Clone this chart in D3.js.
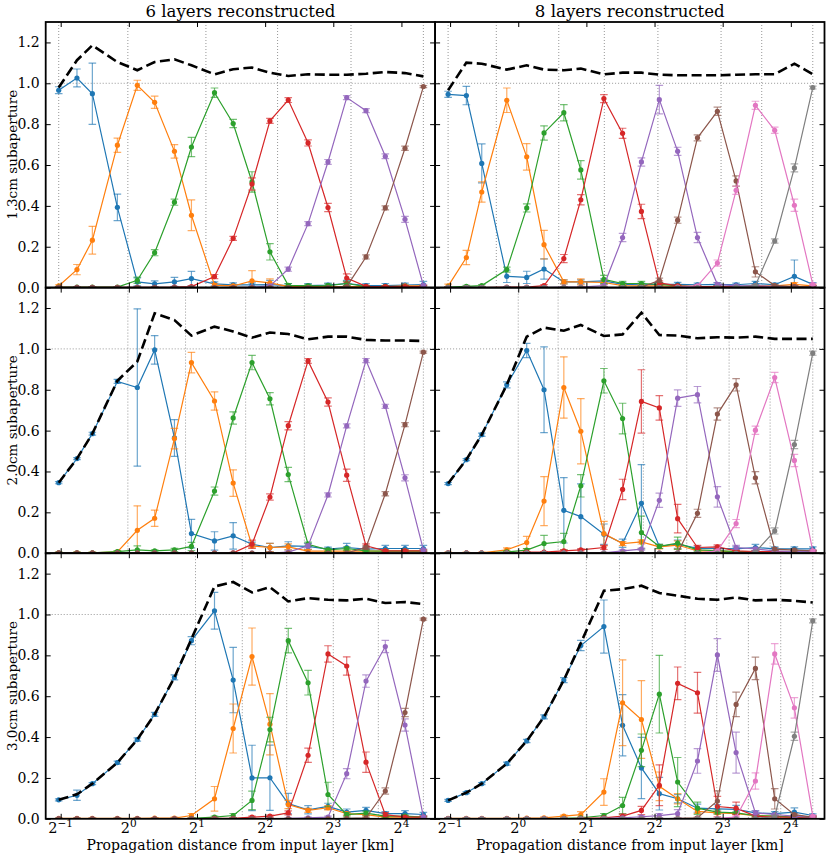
<!DOCTYPE html>
<html>
<head>
<meta charset="utf-8">
<script src="https://cdn.jsdelivr.net/npm/d3@7"></script>
<style>
  body { margin: 0; background: #fff; }
  text { font-family: "DejaVu Serif", serif; fill: #000; }
</style>
</head>
<body>
<div id="chart"></div>
<script>
// propagation distances [km] where each layer was reconstructed
const distances = [0.49, 0.59, 0.69, 0.89, 1.09, 1.30, 1.59, 1.89, 2.39, 2.89, 3.50, 4.20, 5.06, 6.19, 7.58, 9.17, 11.16, 13.58, 16.59, 20.0];

const colTitles = ['6 layers reconstructed', '8 layers reconstructed'];
const rowLabels = ['1.3cm subaperture', '2.0cm subaperture', '3.0cm subaperture'];
const xTickExps = [-1, 0, 1, 2, 3, 4];
const yTicks = [0, 0.2, 0.4, 0.6, 0.8, 1.0, 1.2];
const colors = ['#1f77b4', '#ff7f0e', '#2ca02c', '#d62728', '#9467bd', '#8c564b', '#e377c2', '#7f7f7f'];

// true layer positions (dotted verticals)
const layers_13_6 = [0.49, 0.99, 2.19, 4.54, 9.58, 20.0];
const layers_20_6 = [0.99, 1.78, 3.28, 5.96, 10.97, 20.0];
const layers_30_6 = [1.97, 3.17, 4.98, 8.0, 12.65, 20.0];
const layers_13_8 = [0.49, 0.80, 1.51, 2.40, 4.14, 7.87, 11.9, 20.0];
const layers_20_8 = [1.0, 1.50, 2.40, 3.57, 5.55, 8.54, 12.96, 20.0];
const layers_30_8 = [2.0, 2.80, 3.91, 5.46, 7.53, 10.39, 14.44, 20.0];

// ---- 1.3cm, 6 layers
const vals_13_6 = [
  [0.966, 1.026, 0.949, 0.393, 0.028, 0.018, 0.028, 0.044, 0.018, 0.013, 0.013, 0.015, 0.010, 0.010, 0.012, 0.020, 0.010, 0.010, 0.012, 0.015],
  [0.008, 0.088, 0.232, 0.697, 0.990, 0.907, 0.667, 0.354, 0.012, 0.008, 0.033, 0.023, 0.005, 0.005, 0.005, 0.005, 0.005, 0.005, 0.008, 0.008],
  [0.002, 0.002, 0.002, 0.002, 0.036, 0.171, 0.418, 0.688, 0.954, 0.803, 0.517, 0.175, 0.011, 0.008, 0.010, 0.020, 0.005, 0.005, 0.005, 0.005],
  [0.001, 0.001, 0.001, 0.001, 0.001, 0.001, 0.002, 0.005, 0.054, 0.241, 0.507, 0.816, 0.918, 0.708, 0.392, 0.047, 0.006, 0.005, 0.005, 0.005],
  [0.000, 0.000, 0.000, 0.000, 0.000, 0.000, 0.000, 0.000, 0.000, 0.000, 0.002, 0.008, 0.090, 0.313, 0.615, 0.930, 0.866, 0.643, 0.334, 0.011],
  [0.000, 0.000, 0.000, 0.000, 0.000, 0.000, 0.000, 0.000, 0.000, 0.000, 0.000, 0.000, 0.000, 0.000, 0.000, 0.005, 0.150, 0.390, 0.682, 0.984]
];
const errs_13_6 = [
  [0.017, 0.044, 0.150, 0.065, 0.020, 0.015, 0.022, 0.035, 0.010, 0.010, 0.010, 0.020, 0.010, 0.010, 0.010, 0.015, 0.010, 0.010, 0.010, 0.015],
  [0.005, 0.025, 0.068, 0.035, 0.025, 0.030, 0.033, 0.075, 0.008, 0.005, 0.050, 0.020, 0.005, 0.005, 0.005, 0.005, 0.005, 0.005, 0.005, 0.005],
  [0.003, 0.003, 0.003, 0.003, 0.015, 0.015, 0.015, 0.047, 0.023, 0.020, 0.050, 0.040, 0.008, 0.008, 0.008, 0.010, 0.005, 0.005, 0.005, 0.005],
  [0.002, 0.002, 0.002, 0.002, 0.002, 0.002, 0.002, 0.005, 0.010, 0.010, 0.030, 0.012, 0.012, 0.015, 0.020, 0.020, 0.005, 0.005, 0.005, 0.005],
  [0.002, 0.002, 0.002, 0.002, 0.002, 0.002, 0.002, 0.002, 0.002, 0.002, 0.003, 0.005, 0.010, 0.010, 0.012, 0.010, 0.010, 0.012, 0.015, 0.005],
  [0.002, 0.002, 0.002, 0.002, 0.002, 0.002, 0.002, 0.002, 0.002, 0.002, 0.002, 0.002, 0.002, 0.002, 0.002, 0.003, 0.010, 0.010, 0.010, 0.005]
];
const total_13_6 = [0.979, 1.113, 1.186, 1.104, 1.064, 1.104, 1.117, 1.088, 1.044, 1.069, 1.077, 1.052, 1.036, 1.044, 1.042, 1.042, 1.047, 1.055, 1.050, 1.034];

// ---- 1.3cm, 8 layers
const vals_13_8 = [
  [0.946, 0.940, 0.608, 0.055, 0.050, 0.091, 0.028, 0.028, 0.033, 0.016, 0.014, 0.016, 0.016, 0.014, 0.016, 0.014, 0.020, 0.014, 0.055, 0.016],
  [0.007, 0.147, 0.468, 0.917, 0.640, 0.210, 0.028, 0.028, 0.025, 0.010, 0.008, 0.008, 0.005, 0.005, 0.005, 0.005, 0.008, 0.008, 0.016, 0.008],
  [0.002, 0.006, 0.010, 0.088, 0.390, 0.757, 0.856, 0.576, 0.040, 0.020, 0.020, 0.016, 0.008, 0.005, 0.005, 0.005, 0.005, 0.005, 0.005, 0.005],
  [0.000, 0.000, 0.000, 0.002, 0.002, 0.010, 0.142, 0.430, 0.925, 0.755, 0.373, 0.023, 0.008, 0.005, 0.005, 0.005, 0.005, 0.005, 0.005, 0.005],
  [0.000, 0.000, 0.000, 0.000, 0.000, 0.000, 0.002, 0.002, 0.010, 0.245, 0.615, 0.920, 0.667, 0.245, 0.016, 0.008, 0.010, 0.005, 0.005, 0.005],
  [0.000, 0.000, 0.000, 0.000, 0.000, 0.000, 0.000, 0.000, 0.000, 0.000, 0.002, 0.036, 0.330, 0.733, 0.863, 0.522, 0.077, 0.010, 0.005, 0.005],
  [0.000, 0.000, 0.000, 0.000, 0.000, 0.000, 0.000, 0.000, 0.000, 0.000, 0.000, 0.000, 0.002, 0.008, 0.120, 0.476, 0.892, 0.770, 0.403, 0.016],
  [0.000, 0.000, 0.000, 0.000, 0.000, 0.000, 0.000, 0.000, 0.000, 0.000, 0.000, 0.000, 0.000, 0.000, 0.000, 0.002, 0.010, 0.228, 0.586, 0.979]
];
const errs_13_8 = [
  [0.015, 0.045, 0.095, 0.030, 0.030, 0.050, 0.010, 0.010, 0.010, 0.008, 0.008, 0.008, 0.010, 0.008, 0.008, 0.008, 0.010, 0.008, 0.080, 0.008],
  [0.010, 0.035, 0.050, 0.060, 0.065, 0.070, 0.010, 0.015, 0.010, 0.005, 0.005, 0.005, 0.005, 0.005, 0.005, 0.005, 0.005, 0.005, 0.008, 0.005],
  [0.003, 0.005, 0.005, 0.012, 0.020, 0.035, 0.040, 0.045, 0.020, 0.010, 0.010, 0.008, 0.005, 0.005, 0.005, 0.005, 0.005, 0.005, 0.005, 0.005],
  [0.002, 0.002, 0.002, 0.002, 0.002, 0.005, 0.020, 0.025, 0.020, 0.025, 0.035, 0.010, 0.005, 0.005, 0.005, 0.005, 0.005, 0.005, 0.005, 0.005],
  [0.002, 0.002, 0.002, 0.002, 0.002, 0.002, 0.002, 0.002, 0.005, 0.020, 0.020, 0.070, 0.020, 0.025, 0.008, 0.005, 0.005, 0.005, 0.005, 0.005],
  [0.002, 0.002, 0.002, 0.002, 0.002, 0.002, 0.002, 0.002, 0.002, 0.002, 0.002, 0.010, 0.015, 0.015, 0.020, 0.025, 0.025, 0.005, 0.005, 0.005],
  [0.002, 0.002, 0.002, 0.002, 0.002, 0.002, 0.002, 0.002, 0.002, 0.002, 0.002, 0.002, 0.002, 0.005, 0.015, 0.020, 0.020, 0.015, 0.030, 0.005],
  [0.002, 0.002, 0.002, 0.002, 0.002, 0.002, 0.002, 0.002, 0.002, 0.002, 0.002, 0.002, 0.002, 0.002, 0.002, 0.002, 0.005, 0.010, 0.020, 0.007]
];
const total_13_8 = [0.966, 1.101, 1.096, 1.067, 1.088, 1.067, 1.064, 1.072, 1.044, 1.052, 1.052, 1.042, 1.039, 1.039, 1.039, 1.042, 1.044, 1.044, 1.096, 1.044];

// ---- 2.0cm, 6 layers
const vals_20_6 = [
  [0.345, 0.463, 0.585, 0.841, 0.811, 0.995, 0.564, 0.096, 0.060, 0.085, 0.044, 0.028, 0.036, 0.033, 0.020, 0.028, 0.020, 0.023, 0.023, 0.023],
  [0.002, 0.002, 0.002, 0.006, 0.112, 0.171, 0.561, 0.933, 0.745, 0.343, 0.036, 0.028, 0.031, 0.010, 0.010, 0.010, 0.010, 0.010, 0.010, 0.010],
  [0.002, 0.002, 0.002, 0.008, 0.016, 0.011, 0.016, 0.033, 0.304, 0.662, 0.933, 0.756, 0.385, 0.044, 0.016, 0.023, 0.011, 0.010, 0.010, 0.010],
  [0.001, 0.001, 0.001, 0.001, 0.001, 0.001, 0.001, 0.001, 0.001, 0.002, 0.044, 0.275, 0.624, 0.941, 0.740, 0.382, 0.036, 0.011, 0.011, 0.011],
  [0.000, 0.000, 0.000, 0.000, 0.000, 0.000, 0.000, 0.000, 0.000, 0.000, 0.000, 0.000, 0.005, 0.036, 0.285, 0.623, 0.943, 0.719, 0.369, 0.016],
  [0.000, 0.000, 0.000, 0.000, 0.000, 0.000, 0.000, 0.000, 0.000, 0.000, 0.000, 0.000, 0.000, 0.000, 0.000, 0.002, 0.028, 0.291, 0.629, 0.984]
];
const errs_20_6 = [
  [0.005, 0.005, 0.007, 0.010, 0.385, 0.070, 0.090, 0.070, 0.045, 0.065, 0.010, 0.020, 0.020, 0.015, 0.010, 0.020, 0.010, 0.015, 0.015, 0.015],
  [0.003, 0.003, 0.003, 0.005, 0.120, 0.040, 0.050, 0.050, 0.045, 0.065, 0.010, 0.020, 0.015, 0.008, 0.005, 0.005, 0.005, 0.005, 0.005, 0.005],
  [0.003, 0.003, 0.003, 0.005, 0.020, 0.005, 0.008, 0.020, 0.020, 0.030, 0.035, 0.030, 0.035, 0.010, 0.008, 0.008, 0.005, 0.005, 0.005, 0.005],
  [0.002, 0.002, 0.002, 0.002, 0.002, 0.002, 0.002, 0.002, 0.002, 0.002, 0.020, 0.015, 0.020, 0.012, 0.020, 0.030, 0.010, 0.005, 0.005, 0.005],
  [0.002, 0.002, 0.002, 0.002, 0.002, 0.002, 0.002, 0.002, 0.002, 0.002, 0.002, 0.002, 0.003, 0.010, 0.010, 0.010, 0.010, 0.010, 0.015, 0.005],
  [0.002, 0.002, 0.002, 0.002, 0.002, 0.002, 0.002, 0.002, 0.002, 0.002, 0.002, 0.002, 0.002, 0.002, 0.002, 0.002, 0.008, 0.010, 0.010, 0.005]
];
const total_20_6 = [0.345, 0.463, 0.585, 0.844, 0.938, 1.174, 1.141, 1.065, 1.109, 1.085, 1.055, 1.080, 1.073, 1.047, 1.060, 1.060, 1.044, 1.041, 1.041, 1.039];

// ---- 2.0cm, 8 layers
const vals_20_8 = [
  [0.341, 0.458, 0.580, 0.824, 0.992, 0.800, 0.210, 0.179, 0.093, 0.049, 0.244, 0.033, 0.044, 0.024, 0.024, 0.021, 0.028, 0.021, 0.021, 0.021],
  [0.002, 0.002, 0.002, 0.016, 0.052, 0.255, 0.811, 0.597, 0.096, 0.047, 0.055, 0.031, 0.040, 0.011, 0.010, 0.008, 0.008, 0.008, 0.008, 0.008],
  [0.001, 0.001, 0.001, 0.006, 0.015, 0.047, 0.057, 0.330, 0.844, 0.659, 0.101, 0.033, 0.049, 0.016, 0.013, 0.008, 0.008, 0.008, 0.008, 0.008],
  [0.000, 0.000, 0.000, 0.002, 0.005, 0.005, 0.011, 0.016, 0.028, 0.312, 0.743, 0.711, 0.169, 0.028, 0.031, 0.011, 0.008, 0.008, 0.008, 0.008],
  [0.000, 0.000, 0.000, 0.000, 0.000, 0.000, 0.000, 0.000, 0.002, 0.011, 0.020, 0.259, 0.759, 0.776, 0.276, 0.028, 0.021, 0.011, 0.008, 0.008],
  [0.000, 0.000, 0.000, 0.000, 0.000, 0.000, 0.000, 0.000, 0.000, 0.000, 0.000, 0.000, 0.002, 0.195, 0.681, 0.824, 0.369, 0.020, 0.015, 0.011],
  [0.000, 0.000, 0.000, 0.000, 0.000, 0.000, 0.000, 0.000, 0.000, 0.000, 0.000, 0.000, 0.000, 0.000, 0.011, 0.145, 0.602, 0.860, 0.454, 0.011],
  [0.000, 0.000, 0.000, 0.000, 0.000, 0.000, 0.000, 0.000, 0.000, 0.000, 0.000, 0.000, 0.000, 0.000, 0.000, 0.000, 0.005, 0.109, 0.532, 0.979]
];
const errs_20_8 = [
  [0.005, 0.005, 0.008, 0.015, 0.035, 0.210, 0.160, 0.160, 0.050, 0.020, 0.190, 0.010, 0.020, 0.010, 0.010, 0.010, 0.015, 0.010, 0.010, 0.010],
  [0.003, 0.003, 0.003, 0.010, 0.030, 0.120, 0.150, 0.160, 0.060, 0.010, 0.010, 0.010, 0.020, 0.008, 0.005, 0.005, 0.005, 0.005, 0.005, 0.005],
  [0.002, 0.002, 0.002, 0.005, 0.008, 0.040, 0.040, 0.055, 0.060, 0.075, 0.080, 0.010, 0.030, 0.008, 0.005, 0.005, 0.005, 0.005, 0.005, 0.005],
  [0.002, 0.002, 0.002, 0.002, 0.003, 0.003, 0.005, 0.005, 0.010, 0.050, 0.155, 0.060, 0.070, 0.010, 0.010, 0.005, 0.005, 0.005, 0.005, 0.005],
  [0.002, 0.002, 0.002, 0.002, 0.002, 0.002, 0.002, 0.002, 0.002, 0.005, 0.005, 0.035, 0.040, 0.040, 0.050, 0.010, 0.008, 0.005, 0.005, 0.005],
  [0.002, 0.002, 0.002, 0.002, 0.002, 0.002, 0.002, 0.002, 0.002, 0.002, 0.002, 0.002, 0.002, 0.020, 0.030, 0.030, 0.030, 0.008, 0.005, 0.005],
  [0.002, 0.002, 0.002, 0.002, 0.002, 0.002, 0.002, 0.002, 0.002, 0.002, 0.002, 0.002, 0.002, 0.002, 0.005, 0.020, 0.020, 0.025, 0.030, 0.005],
  [0.002, 0.002, 0.002, 0.002, 0.002, 0.002, 0.002, 0.002, 0.002, 0.002, 0.002, 0.002, 0.002, 0.002, 0.002, 0.002, 0.003, 0.015, 0.020, 0.010]
];
const total_20_8 = [0.341, 0.458, 0.580, 0.824, 1.060, 1.104, 1.089, 1.117, 1.063, 1.071, 1.177, 1.068, 1.065, 1.052, 1.057, 1.055, 1.060, 1.049, 1.049, 1.049];

// ---- 3.0cm, 6 layers
const vals_30_6 = [
  [0.093, 0.115, 0.172, 0.275, 0.388, 0.511, 0.692, 0.872, 1.018, 0.679, 0.200, 0.201, 0.074, 0.044, 0.061, 0.033, 0.041, 0.025, 0.025, 0.021],
  [0.002, 0.002, 0.002, 0.002, 0.002, 0.003, 0.003, 0.016, 0.098, 0.442, 0.794, 0.463, 0.070, 0.041, 0.054, 0.025, 0.020, 0.008, 0.008, 0.008],
  [0.000, 0.000, 0.000, 0.000, 0.000, 0.000, 0.000, 0.002, 0.008, 0.016, 0.090, 0.437, 0.872, 0.666, 0.119, 0.020, 0.028, 0.013, 0.013, 0.008],
  [0.000, 0.000, 0.000, 0.000, 0.000, 0.000, 0.000, 0.000, 0.002, 0.002, 0.008, 0.013, 0.029, 0.311, 0.807, 0.748, 0.277, 0.020, 0.008, 0.008],
  [0.000, 0.000, 0.000, 0.000, 0.000, 0.000, 0.000, 0.000, 0.000, 0.000, 0.000, 0.000, 0.002, 0.005, 0.008, 0.221, 0.674, 0.843, 0.459, 0.010],
  [0.000, 0.000, 0.000, 0.000, 0.000, 0.000, 0.000, 0.000, 0.000, 0.000, 0.000, 0.000, 0.000, 0.000, 0.000, 0.002, 0.005, 0.136, 0.520, 0.977]
];
const errs_30_6 = [
  [0.005, 0.025, 0.005, 0.007, 0.008, 0.010, 0.012, 0.020, 0.090, 0.160, 0.160, 0.160, 0.050, 0.020, 0.015, 0.015, 0.015, 0.010, 0.015, 0.010],
  [0.002, 0.002, 0.002, 0.002, 0.002, 0.003, 0.005, 0.010, 0.060, 0.120, 0.140, 0.150, 0.020, 0.010, 0.010, 0.008, 0.005, 0.005, 0.005, 0.005],
  [0.002, 0.002, 0.002, 0.002, 0.002, 0.002, 0.002, 0.003, 0.005, 0.010, 0.045, 0.060, 0.060, 0.060, 0.060, 0.010, 0.010, 0.005, 0.005, 0.005],
  [0.002, 0.002, 0.002, 0.002, 0.002, 0.002, 0.002, 0.002, 0.002, 0.002, 0.005, 0.005, 0.010, 0.035, 0.040, 0.045, 0.050, 0.010, 0.005, 0.005],
  [0.002, 0.002, 0.002, 0.002, 0.002, 0.002, 0.002, 0.002, 0.002, 0.002, 0.002, 0.002, 0.002, 0.003, 0.005, 0.025, 0.030, 0.030, 0.030, 0.005],
  [0.002, 0.002, 0.002, 0.002, 0.002, 0.002, 0.002, 0.002, 0.002, 0.002, 0.002, 0.002, 0.002, 0.002, 0.002, 0.002, 0.003, 0.015, 0.020, 0.005]
];
const total_30_6 = [0.093, 0.120, 0.172, 0.275, 0.388, 0.511, 0.692, 0.880, 1.137, 1.159, 1.108, 1.134, 1.064, 1.080, 1.072, 1.069, 1.077, 1.056, 1.061, 1.051];

// ---- 3.0cm, 8 layers
const vals_30_8 = [
  [0.090, 0.128, 0.172, 0.270, 0.381, 0.499, 0.679, 0.848, 0.941, 0.458, 0.249, 0.123, 0.098, 0.052, 0.049, 0.046, 0.029, 0.025, 0.033, 0.016],
  [0.002, 0.002, 0.002, 0.002, 0.003, 0.005, 0.013, 0.020, 0.131, 0.568, 0.486, 0.159, 0.098, 0.036, 0.029, 0.025, 0.016, 0.013, 0.008, 0.008],
  [0.000, 0.000, 0.000, 0.000, 0.000, 0.000, 0.002, 0.005, 0.016, 0.065, 0.335, 0.610, 0.180, 0.052, 0.033, 0.029, 0.016, 0.013, 0.008, 0.008],
  [0.000, 0.000, 0.000, 0.000, 0.000, 0.000, 0.000, 0.002, 0.005, 0.013, 0.041, 0.164, 0.663, 0.617, 0.060, 0.052, 0.013, 0.008, 0.008, 0.008],
  [0.000, 0.000, 0.000, 0.000, 0.000, 0.000, 0.000, 0.000, 0.002, 0.005, 0.010, 0.016, 0.025, 0.283, 0.802, 0.324, 0.029, 0.021, 0.013, 0.008],
  [0.000, 0.000, 0.000, 0.000, 0.000, 0.000, 0.000, 0.000, 0.000, 0.000, 0.000, 0.000, 0.002, 0.005, 0.087, 0.560, 0.736, 0.098, 0.020, 0.008],
  [0.000, 0.000, 0.000, 0.000, 0.000, 0.000, 0.000, 0.000, 0.000, 0.000, 0.000, 0.000, 0.000, 0.000, 0.002, 0.008, 0.185, 0.807, 0.543, 0.013],
  [0.000, 0.000, 0.000, 0.000, 0.000, 0.000, 0.000, 0.000, 0.000, 0.000, 0.000, 0.000, 0.000, 0.000, 0.000, 0.000, 0.002, 0.010, 0.404, 0.969]
];
const errs_30_8 = [
  [0.005, 0.005, 0.005, 0.007, 0.008, 0.010, 0.012, 0.025, 0.130, 0.150, 0.150, 0.080, 0.020, 0.020, 0.020, 0.020, 0.010, 0.010, 0.020, 0.008],
  [0.002, 0.002, 0.002, 0.002, 0.002, 0.005, 0.005, 0.015, 0.065, 0.210, 0.190, 0.070, 0.025, 0.010, 0.005, 0.005, 0.005, 0.005, 0.005, 0.005],
  [0.002, 0.002, 0.002, 0.002, 0.002, 0.002, 0.002, 0.003, 0.010, 0.040, 0.080, 0.190, 0.120, 0.030, 0.010, 0.005, 0.005, 0.005, 0.005, 0.005],
  [0.002, 0.002, 0.002, 0.002, 0.002, 0.002, 0.002, 0.002, 0.003, 0.010, 0.020, 0.100, 0.080, 0.100, 0.050, 0.030, 0.008, 0.005, 0.005, 0.005],
  [0.002, 0.002, 0.002, 0.002, 0.002, 0.002, 0.002, 0.002, 0.002, 0.003, 0.005, 0.010, 0.020, 0.060, 0.080, 0.100, 0.010, 0.005, 0.005, 0.005],
  [0.002, 0.002, 0.002, 0.002, 0.002, 0.002, 0.002, 0.002, 0.002, 0.002, 0.002, 0.002, 0.002, 0.003, 0.050, 0.060, 0.055, 0.050, 0.005, 0.005],
  [0.002, 0.002, 0.002, 0.002, 0.002, 0.002, 0.002, 0.002, 0.002, 0.002, 0.002, 0.002, 0.002, 0.002, 0.002, 0.005, 0.040, 0.050, 0.050, 0.005],
  [0.002, 0.002, 0.002, 0.002, 0.002, 0.002, 0.002, 0.002, 0.002, 0.002, 0.002, 0.002, 0.002, 0.002, 0.002, 0.002, 0.002, 0.005, 0.020, 0.010]
];
const total_30_8 = [0.090, 0.128, 0.172, 0.270, 0.381, 0.499, 0.679, 0.860, 1.116, 1.124, 1.141, 1.105, 1.092, 1.077, 1.072, 1.083, 1.069, 1.072, 1.067, 1.059];

// panel list built from the arrays above
const panels = [
  { r: 0, c: 0, vals: vals_13_6, errs: errs_13_6, total: total_13_6, layers: layers_13_6 },
  { r: 0, c: 1, vals: vals_13_8, errs: errs_13_8, total: total_13_8, layers: layers_13_8 },
  { r: 1, c: 0, vals: vals_20_6, errs: errs_20_6, total: total_20_6, layers: layers_20_6 },
  { r: 1, c: 1, vals: vals_20_8, errs: errs_20_8, total: total_20_8, layers: layers_20_8 },
  { r: 2, c: 0, vals: vals_30_6, errs: errs_30_6, total: total_30_6, layers: layers_30_6 },
  { r: 2, c: 1, vals: vals_30_8, errs: errs_30_8, total: total_30_8, layers: layers_30_8 }
];

const W = 831, H = 857;
const padLeft = 45.7, padTop = 22;
const pw = 389.4, ph = 265.6;

const svg = d3.select('#chart').append('svg')
  .attr('width', W).attr('height', H);

const x = d3.scaleLog().base(2).domain([2 ** -1.22, 2 ** 4.494]).range([0, pw]);
const y = d3.scaleLinear().domain([0, 1.3]).range([ph, 0]);

const line = d3.line().x((d) => x(d[0])).y((d) => y(d[1]));

// ---- plot content
panels.forEach((p, k) => {
  const g = svg.append('g')
    .attr('transform', `translate(${padLeft + p.c * pw},${padTop + p.r * ph})`);

  g.append('clipPath').attr('id', `clip${k}`)
    .append('rect').attr('width', pw).attr('height', ph);

  const body = g.append('g').attr('clip-path', `url(#clip${k})`);

  // dotted guides: true layer positions + unity
  body.selectAll('line.layer')
    .data(p.layers)
    .enter().append('line')
    .attr('class', 'layer')
    .attr('x1', (d) => x(d)).attr('x2', (d) => x(d))
    .attr('y1', 0).attr('y2', ph)
    .attr('stroke', '#8a8a8a').attr('stroke-width', 0.9)
    .attr('stroke-dasharray', '1,2');

  body.append('line')
    .attr('x1', 0).attr('x2', pw)
    .attr('y1', y(1)).attr('y2', y(1))
    .attr('stroke', '#8a8a8a').attr('stroke-width', 0.9)
    .attr('stroke-dasharray', '1,2');

  p.vals.forEach((series, i) => {
    const col = colors[i];
    const pts = series.map((v, j) => [distances[j], v, p.errs[i][j]]);

    body.append('path')
      .datum(pts)
      .attr('d', line)
      .attr('fill', 'none')
      .attr('stroke', col)
      .attr('stroke-width', 1.2);

    const eb = body.append('g')
      .attr('stroke', col)
      .attr('stroke-opacity', 0.65)
      .attr('stroke-width', 1.2);

    eb.selectAll('line.bar')
      .data(pts)
      .enter().append('line')
      .attr('class', 'bar')
      .attr('x1', (d) => x(d[0])).attr('x2', (d) => x(d[0]))
      .attr('y1', (d) => y(d[1] - d[2])).attr('y2', (d) => y(d[1] + d[2]));

    [-1, 1].forEach((s) => {
      eb.selectAll(`line.cap${s}`)
        .data(pts)
        .enter().append('line')
        .attr('x1', (d) => x(d[0]) - 3.8).attr('x2', (d) => x(d[0]) + 3.8)
        .attr('y1', (d) => y(d[1] + s * d[2])).attr('y2', (d) => y(d[1] + s * d[2]));
    });

    body.append('g').selectAll('circle')
      .data(pts)
      .enter().append('circle')
      .attr('cx', (d) => x(d[0]))
      .attr('cy', (d) => y(d[1]))
      .attr('r', 2.6)
      .attr('fill', col);
  });

  // sum over layers
  body.append('path')
    .datum(p.total.map((v, j) => [distances[j], v]))
    .attr('d', line)
    .attr('fill', 'none')
    .attr('stroke', '#000')
    .attr('stroke-width', 2.6)
    .attr('stroke-dasharray', '10,4.5');
});

// ---- frames, ticks and labels
panels.forEach((p) => {
  const g = svg.append('g')
    .attr('transform', `translate(${padLeft + p.c * pw},${padTop + p.r * ph})`);

  const yl = g.append('g')
    .call(d3.axisLeft(y).tickValues(yTicks).tickSize(-5).tickPadding(6)
      .tickFormat(p.c === 0 ? d3.format('.1f') : () => ''));
  const yr = g.append('g').attr('transform', `translate(${pw},0)`)
    .call(d3.axisRight(y).tickValues(yTicks).tickSize(-5).tickFormat(() => ''));
  const xb = g.append('g').attr('transform', `translate(0,${ph})`)
    .call(d3.axisBottom(x).tickValues(xTickExps.map((e) => 2 ** e)).tickSize(-5).tickFormat(() => ''));
  const xt = g.append('g')
    .call(d3.axisTop(x).tickValues(xTickExps.map((e) => 2 ** e)).tickSize(-5).tickFormat(() => ''));

  [yl, yr, xb, xt].forEach((a) => {
    a.select('.domain').remove();
    a.selectAll('.tick line').attr('stroke', '#000').attr('stroke-width', 1);
  });
  yl.selectAll('.tick text')
    .style('font-family', '"DejaVu Serif", serif')
    .style('font-size', '14px')
    .attr('fill', '#000');

  g.append('rect')
    .attr('width', pw).attr('height', ph)
    .attr('fill', 'none')
    .attr('stroke', '#000')
    .attr('stroke-width', 1.8);

  if (p.r === 2) {
    xTickExps.forEach((e) => {
      const t = g.append('text')
        .attr('x', x(2 ** e))
        .attr('y', ph + 14.5)
        .attr('text-anchor', 'middle')
        .style('font-size', '14.5px');
      t.append('tspan').text('2');
      t.append('tspan')
        .attr('dy', -6.5)
        .style('font-size', '10.5px')
        .text(e < 0 ? `\u2212${-e}` : `${e}`);
    });
    g.append('text')
      .attr('x', pw / 2)
      .attr('y', ph + 31)
      .attr('text-anchor', 'middle')
      .style('font-size', '14px')
      .text('Propagation distance from input layer [km]');
  }
  if (p.r === 0) {
    g.append('text')
      .attr('x', pw / 2)
      .attr('y', -5)
      .attr('text-anchor', 'middle')
      .style('font-size', '16.6px')
      .text(colTitles[p.c]);
  }
  if (p.c === 0) {
    g.append('text')
      .attr('transform', `translate(-29,${ph / 2}) rotate(-90)`)
      .attr('text-anchor', 'middle')
      .style('font-size', '13.5px')
      .text(rowLabels[p.r]);
  }
});
</script>
</body>
</html>
